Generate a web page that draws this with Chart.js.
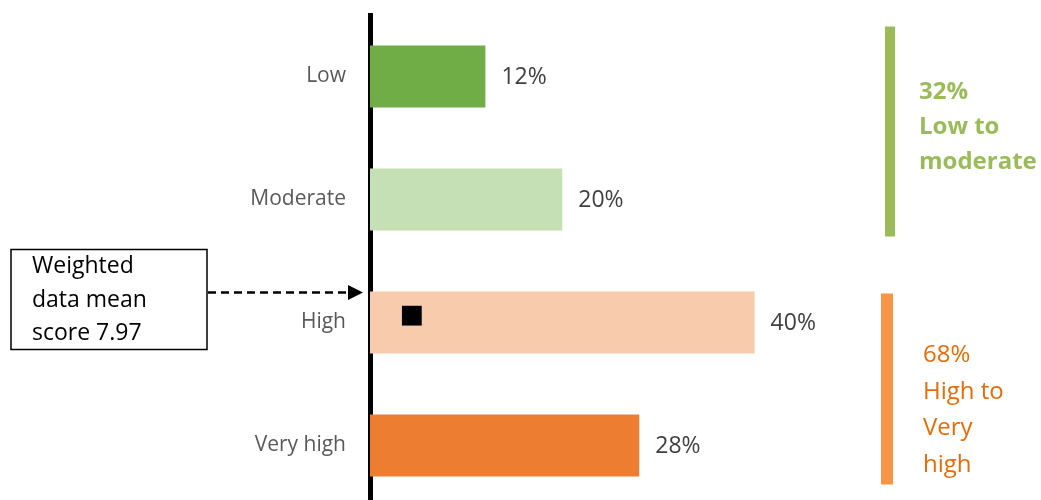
<!DOCTYPE html>
<html>
<head>
<meta charset="utf-8">
<script src="https://cdn.jsdelivr.net/npm/chart.js@4/dist/chart.umd.min.js"></script>
<style>
  html, body { margin: 0; padding: 0; background: #fff; overflow: hidden; }
  canvas { display: block; }
</style>
</head>
<body>
<canvas id="levels" width="1041" height="507"></canvas>
<script>
// share of respondents per level
const categories = ["Low", "Moderate", "High", "Very high"];
const shares = [12, 20, 40, 28];
const barColors = ["#70AD47", "#C5E0B4", "#F8CBAD", "#ED7D31"];

// weighted mean marker, sits on the "High" bar
const meanScore = 7.97;
const meanMarker = [{ x: 4.35, y: 2.0 }];

// grouped totals shown on the right
const lowGroup = shares[0] + shares[1];
const highGroup = shares[2] + shares[3];

const FONT = "'Open Sans', 'Liberation Sans', sans-serif";

const overlay = {
    id: "overlay",
    afterDatasetsDraw(chart) {
        const ctx = chart.ctx;
        const yScale = chart.scales.y;
        const bars = chart.getDatasetMeta(0).data;

        // value labels at the end of each bar
        ctx.save();
        ctx.font = "23px " + FONT;
        ctx.fillStyle = "#404040";
        ctx.textBaseline = "middle";
        ctx.textAlign = "left";
        bars.forEach((bar, i) => {
            ctx.fillText(shares[i] + "%", bar.x + 16, bar.y + 1);
        });

        // group brackets
        const yLow = yScale.getPixelForValue(0);
        const yMod = yScale.getPixelForValue(1);
        const yHigh = yScale.getPixelForValue(2);
        const yVHigh = yScale.getPixelForValue(3);

        ctx.fillStyle = "#9BBB59";
        ctx.fillRect(885, yLow - 50, 10, (yMod + 37) - (yLow - 50));
        ctx.fillStyle = "#F79646";
        ctx.fillRect(881, yHigh - 29, 12, (yVHigh + 39) - (yHigh - 29));

        ctx.textBaseline = "alphabetic";
        ctx.font = "bold 24px " + FONT;
        ctx.fillStyle = "#9BBB59";
        [lowGroup + "%", "Low to", "moderate"].forEach((t, i) => {
            ctx.fillText(t, 919, 99 + i * 35);
        });

        ctx.font = "24px " + FONT;
        ctx.fillStyle = "#E46C0A";
        [highGroup + "%", "High to", "Very", "high"].forEach((t, i) => {
            ctx.fillText(t, 923, 362 + i * 36.5);
        });

        // note box with dashed arrow to the axis
        ctx.strokeStyle = "#000";
        ctx.lineWidth = 1.5;
        ctx.strokeRect(11, 249.5, 196, 100);
        ctx.fillStyle = "#000";
        ctx.font = "23px " + FONT;
        ["Weighted", "data mean", "score " + meanScore].forEach((t, i) => {
            ctx.fillText(t, 32, 273 + i * 33.5);
        });

        ctx.beginPath();
        ctx.setLineDash([8, 5]);
        ctx.lineWidth = 2.5;
        ctx.moveTo(208, 292.5);
        ctx.lineTo(349, 292.5);
        ctx.stroke();
        ctx.setLineDash([]);
        ctx.beginPath();
        ctx.moveTo(348, 285);
        ctx.lineTo(363, 292.5);
        ctx.lineTo(348, 300);
        ctx.closePath();
        ctx.fill();
        ctx.restore();
    }
};

new Chart(document.getElementById("levels"), {
    type: "bar",
    data: {
        labels: categories,
        datasets: [
            {
                data: shares,
                backgroundColor: barColors,
                grouped: false,
                categoryPercentage: 1,
                barPercentage: 0.505,
                maxBarThickness: 62,
                order: 1
            },
            {
                type: "scatter",
                data: meanMarker,
                xAxisID: "x",
                yAxisID: "yMean",
                pointStyle: "rect",
                pointRadius: 14,
                backgroundColor: "#000",
                borderColor: "#000",
                borderWidth: 0,
                order: 0
            }
        ]
    },
    options: {
        indexAxis: "y",
        responsive: false,
        devicePixelRatio: 1,
        animation: false,
        layout: {
            autoPadding: false,
            padding: { left: 0, right: 96, top: 15, bottom: 0 }
        },
        plugins: {
            legend: { display: false },
            tooltip: { enabled: false }
        },
        scales: {
            x: {
                display: false,
                min: 0,
                max: 59.8
            },
            y: {
                type: "category",
                z: 1,
                grid: { display: false, drawTicks: false },
                border: { display: true, color: "#000", width: 5 },
                ticks: {
                    color: "#595959",
                    font: { family: FONT, size: 21 },
                    padding: 24
                },
                afterFit(scale) {
                    scale.width = 370;
                    scale.paddingTop = 0;
                    scale.paddingBottom = 0;
                }
            },
            yMean: {
                type: "linear",
                axis: "y",
                display: false,
                reverse: true,
                min: -0.5,
                max: 3.5
            }
        }
    },
    plugins: [overlay]
});
</script>
</body>
</html>
